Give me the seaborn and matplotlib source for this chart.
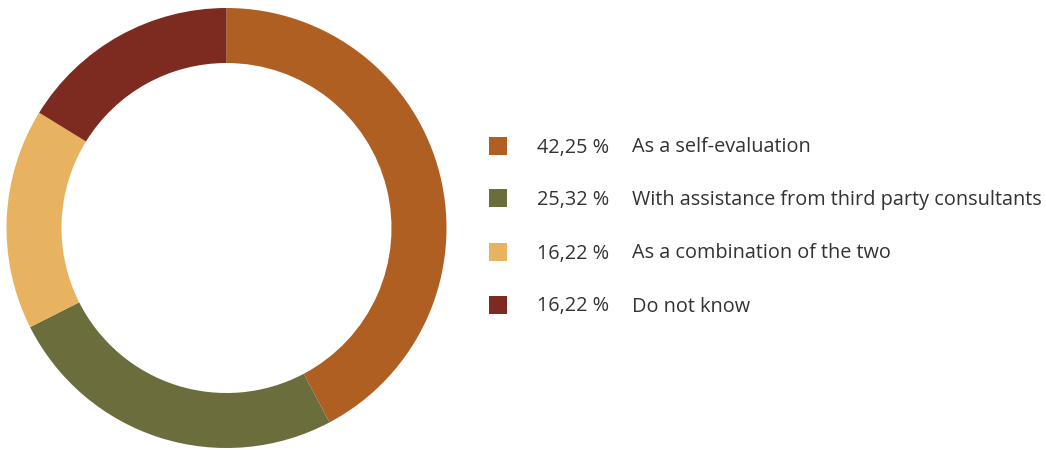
import matplotlib
matplotlib.use("Agg")
import matplotlib.pyplot as plt
from matplotlib.patches import Rectangle
import seaborn as sns

categories = ["As a self-evaluation",
              "With assistance from third party consultants",
              "As a combination of the two",
              "Do not know"]
values = [42.25, 25.32, 16.22, 16.22]
pct_labels = ["42,25 %", "25,32 %", "16,22 %", "16,22 %"]
colors = ["#B05F22", "#6B6E3C", "#E8B360", "#7D2A20"]

sns.set_theme(style="white")
plt.rcParams['font.family'] = ['Open Sans', 'DejaVu Sans']

W, H = 1046, 450
fig = plt.figure(figsize=(W / 100, H / 100), dpi=100)
fig.patch.set_facecolor("white")

cx, cy, r = 226.5, 228, 220
ax = fig.add_axes([(cx - r) / W, (H - cy - r) / H, 2 * r / W, 2 * r / H])
ax.pie(values, colors=colors, startangle=90, counterclock=False,
       radius=1.0, wedgeprops=dict(width=0.25, linewidth=0, edgecolor="none"))
ax.set_xlim(-1, 1)
ax.set_ylim(-1, 1)
ax.set_aspect("equal")
ax.axis("off")

row_y = [146, 198, 252, 305]
for yy, col, pct, lab in zip(row_y, colors, pct_labels, categories):
    fig.patches.append(Rectangle(((489) / W, (H - yy - 9) / H), 18 / W, 18 / H,
                                 transform=fig.transFigure, facecolor=col,
                                 edgecolor="none"))
    ty = (H - yy - 1.5) / H
    fig.text(537 / W, ty, pct, ha="left", va="center",
             fontsize=14.3, color="#333333")
    fig.text(632 / W, ty, lab, ha="left", va="center",
             fontsize=14.3, color="#333333")

fig.savefig("out.png", dpi=100)
